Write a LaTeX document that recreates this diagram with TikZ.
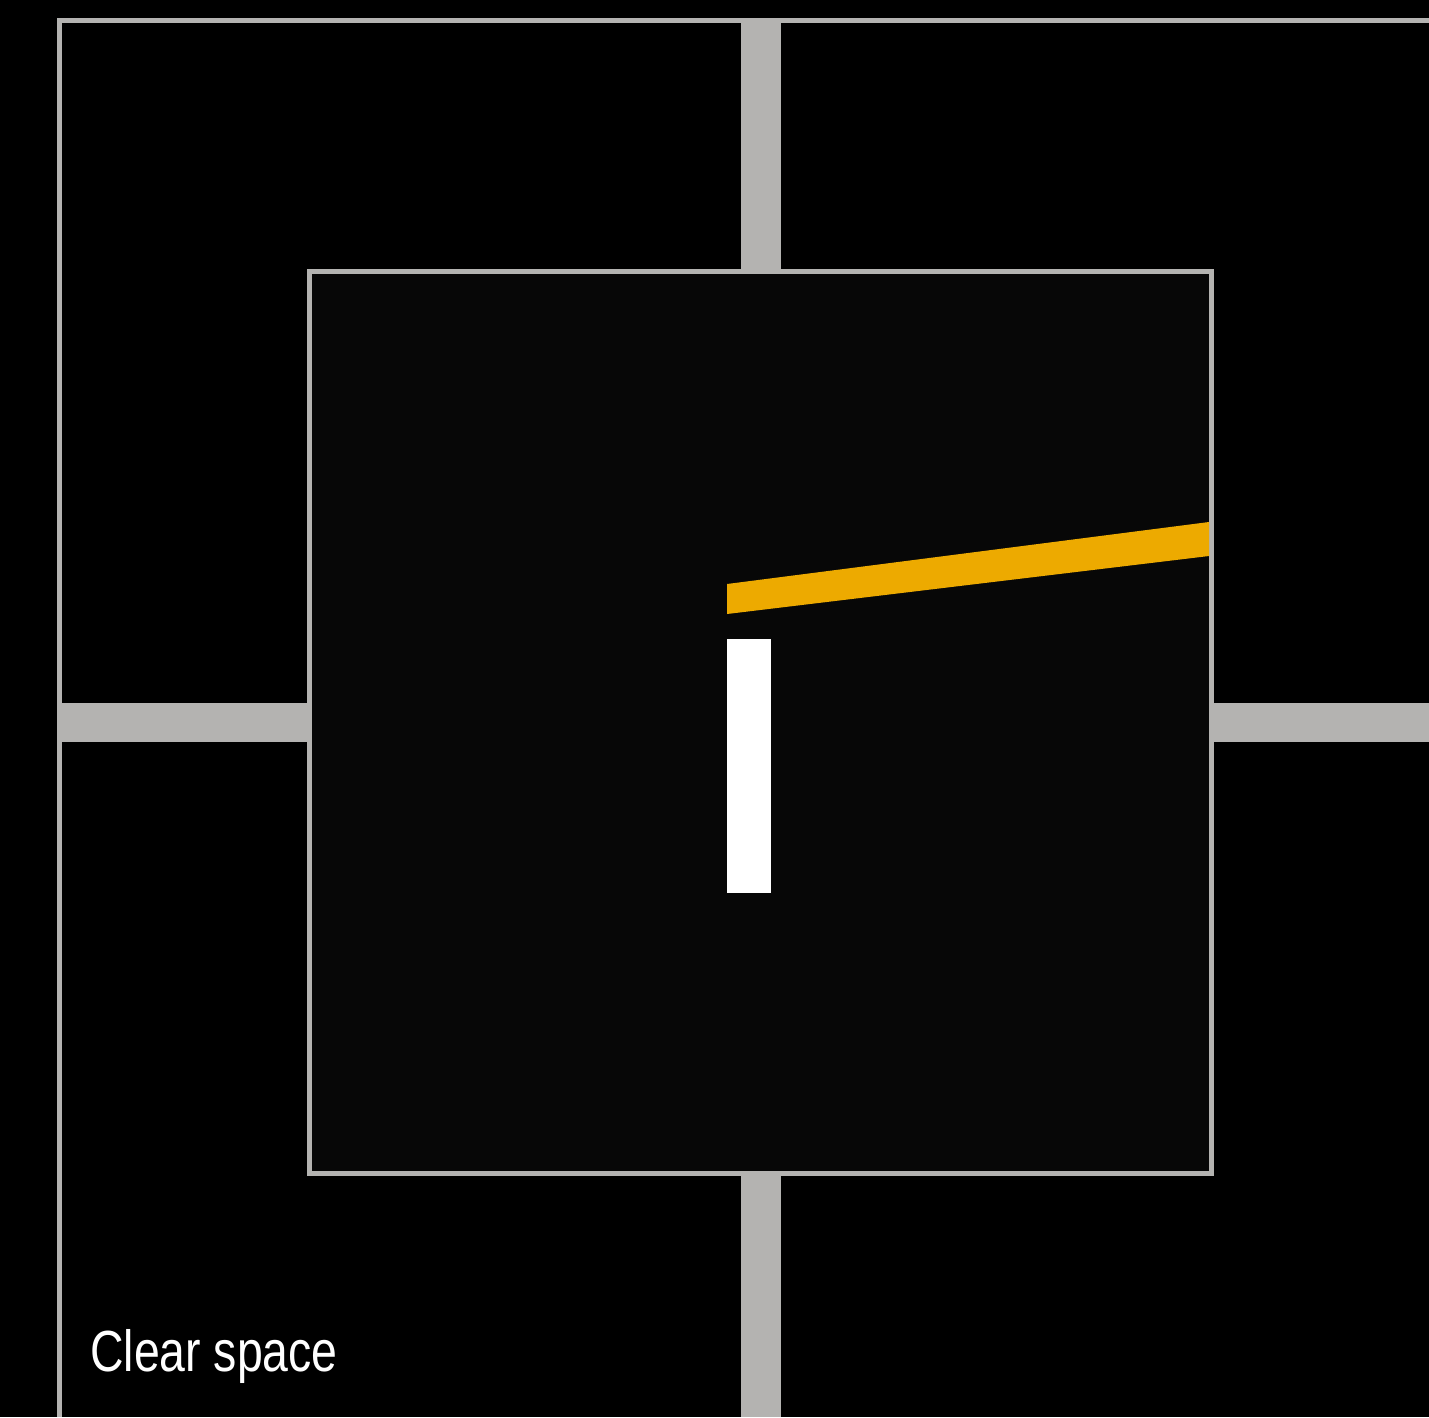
\documentclass[tikz,border=0pt]{standalone}
\usepackage{fontspec}
\newfontfamily\labelfont[FakeStretch=0.8]{Liberation Sans}
\definecolor{framegray}{HTML}{B4B3B1}
\definecolor{boxfill}{HTML}{070707}
\definecolor{markyellow}{HTML}{EDAA00}
\tikzset{
  px/.style={x=1pt,y=-1pt},
  frameline/.style={draw=framegray,line width=5pt},
  barfill/.style={fill=framegray},
  innerbox/.style={draw=framegray,line width=5pt,fill=boxfill,minimum width=902pt,minimum height=902pt,inner sep=0pt},
  caption/.style={text=white,font=\labelfont\fontsize{58}{60}\selectfont,inner sep=0pt,anchor=base west}
}
\begin{document}
\begin{tikzpicture}[px]
\useasboundingbox (0,0) rectangle (1429,1417);
\fill[black] (0,0) rectangle (1429,1417);
% outer frame
\draw[frameline] (59,1417) -- (59,20) -- (1429,20);
% cross bars
\fill[barfill] (741,20) rectangle (781,272);
\fill[barfill] (741,1172) rectangle (781,1417);
\fill[barfill] (59,703) rectangle (310,742);
\fill[barfill] (1210,703) rectangle (1429,742);
% inner square
\node[innerbox] (box) at (760.5,722) {};
% yellow bar
\fill[markyellow] (727,584) -- (1209,522) -- (1209,556) -- (727,614) -- cycle;
% white bar
\fill[white] (727,639) rectangle (771,893);
% caption
\node[caption] (cap) at (90,1371) {Clear space};
\end{tikzpicture}
\end{document}
